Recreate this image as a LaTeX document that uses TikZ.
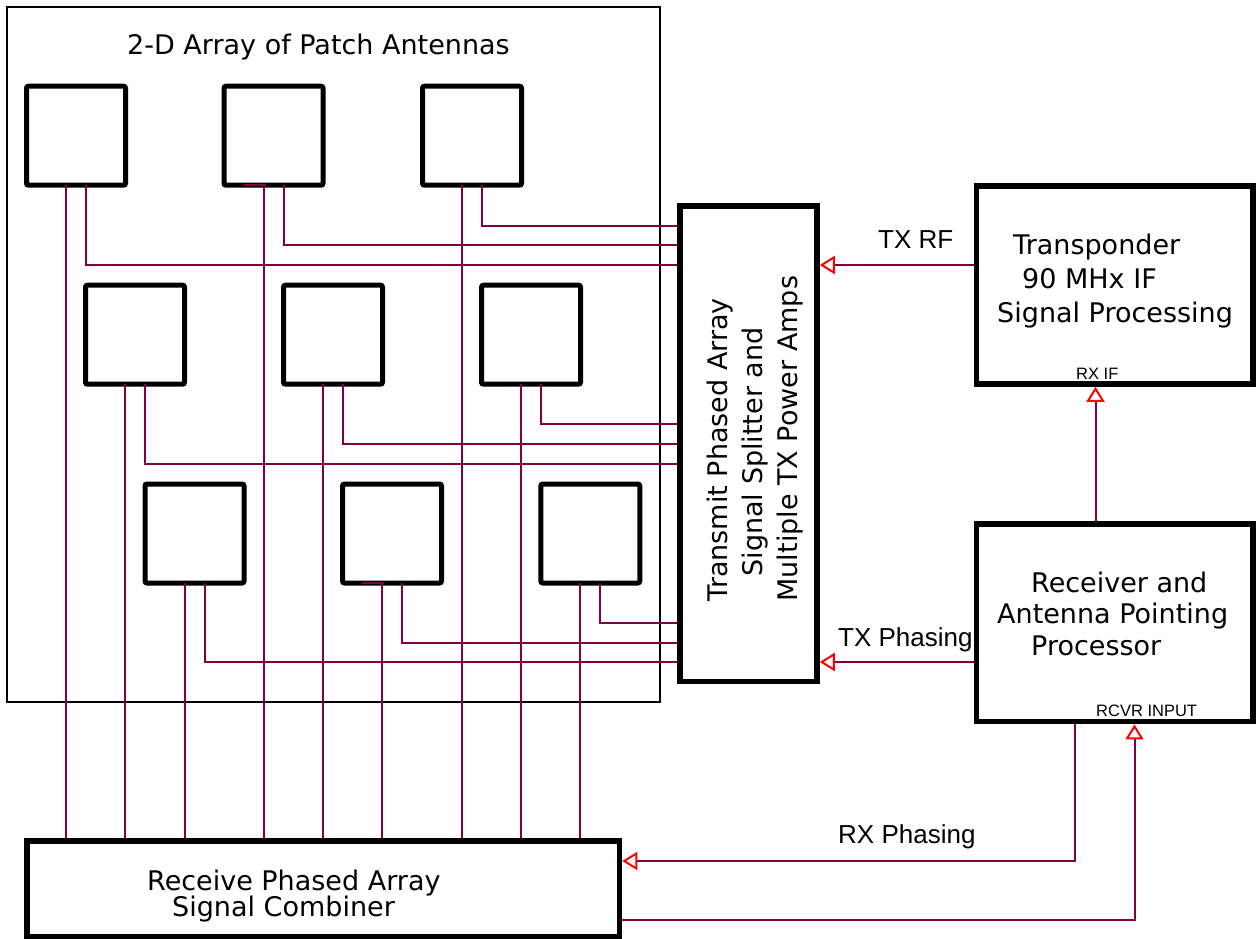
\documentclass[tikz,border=0pt]{standalone}
\usepackage{fontspec}
\newfontfamily\djv{DejaVu Sans}
\newfontfamily\lib{Liberation Sans}
\usetikzlibrary{arrows.meta}
\definecolor{wirec}{RGB}{128,0,64}
\begin{document}
\begin{tikzpicture}[x=1pt,y=-1pt,
  patch/.style={draw,line width=5pt,rounded corners=2pt,minimum width=99pt,minimum height=99pt,inner sep=0pt,outer sep=0pt},
  bigbox/.style={draw,line width=5.5pt,inner sep=0pt},
  wire/.style={draw=wirec,line width=2pt},
  tip/.style={-{Triangle[open,color=red,length=15pt,width=18pt,line width=2pt]}},
  lbl/.style={inner sep=0pt,anchor=base west,font=\djv\fontsize{27pt}{32pt}\selectfont},
  albl/.style={inner sep=0pt,anchor=base west,font=\lib\fontsize{26pt}{30pt}\selectfont},
  slbl/.style={inner sep=0pt,anchor=base west,font=\lib\fontsize{16.5pt}{20pt}\selectfont}]
\useasboundingbox (0,0) rectangle (1256,939);

% array frame
\node[draw,line width=1.6pt,minimum width=653pt,minimum height=695pt,inner sep=0pt] (arr) at (333.5,354.5) {};
\node[lbl] (title) at (127,55) {2-D Array of Patch Antennas};

% patches
\node[patch] (p1) at (76,135.7) {};
\node[patch] (p2) at (273.5,135.7) {};
\node[patch] (p3) at (472,135.7) {};
\node[patch] (p4) at (135,334.7) {};
\node[patch] (p5) at (333,334.7) {};
\node[patch] (p6) at (531,334.7) {};
\node[patch] (p7) at (194.5,533.5) {};
\node[patch] (p8) at (392,533.5) {};
\node[patch] (p9) at (590.3,533.5) {};

% main boxes
\node[bigbox,minimum width=137pt,minimum height=475.5pt] (tx) at (748.5,443.75) {};
\node[bigbox,minimum width=276.5pt,minimum height=198pt] (tp) at (1114.75,285) {};
\node[bigbox,minimum width=276.5pt,minimum height=197.7pt] (rcv) at (1114.75,622.85) {};
\node[bigbox,minimum width=592.5pt,minimum height=95.5pt] (rx) at (323.25,888.75) {};

% rail levels
\coordinate (y1) at (0,265);
\coordinate (y2) at (0,245);
\coordinate (y3) at (0,226);
\coordinate (y4) at (0,464);
\coordinate (y5) at (0,444);
\coordinate (y6) at (0,424);
\coordinate (y7) at (0,662);
\coordinate (y8) at (0,643);
\coordinate (y9) at (0,623);

% receive leads
\foreach \p in {p1,p2,p3,p4,p5,p6,p7,p8,p9}{
  \draw[wire] ([xshift=-10pt]\p.south) -- ([xshift=-10pt]\p.south |- rx.north);
}
% transmit leads
\foreach \p/\r in {p1/y1,p2/y2,p3/y3,p4/y4,p5/y5,p6/y6,p7/y7,p8/y8,p9/y9}{
  \draw[wire] ([xshift=10pt]\p.south) |- (tx.west |- \r);
}
% stubs
\draw[wire,line width=2.2pt] ([xshift=-30pt]p2.south) -- ([xshift=-8pt]p2.south);
\draw[wire,line width=2.2pt] ([xshift=-30pt]p8.south) -- ([xshift=-8pt]p8.south);

% connectors
\coordinate (yRF) at (0,265);
\coordinate (yTXP) at (0,662);
\coordinate (yRXP) at (0,861);
\coordinate (yRCV) at (0,920);
\coordinate (xIF) at (1095.5,0);
\coordinate (xRXP) at (1075,0);
\coordinate (xRCV) at (1134.5,0);
\draw[wire,tip] (tp.west |- yRF) -- (tx.east |- yRF);
\draw[wire,tip] (rcv.west |- yTXP) -- (tx.east |- yTXP);
\draw[wire,tip] (rcv.north -| xIF) -- (tp.south -| xIF);
\draw[wire,tip] (rcv.south -| xRXP) |- (rx.east |- yRXP);
\draw[wire,tip] (rx.east |- yRCV) -| (rcv.south -| xRCV);

% texts
\node[lbl] (t1) at (1013,254) {Transponder};
\node[lbl] (t2) at (1022,288) {90 MHx IF};
\node[lbl] (t3) at (997,322) {Signal Processing};
\node[slbl] (t4) at (1076,379) {RX IF};
\node[lbl] (r1) at (1031,592) {Receiver and};
\node[lbl] (r2) at (997,623) {Antenna Pointing};
\node[lbl] (r3) at (1031,655) {Processor};
\node[slbl] (r4) at (1096,716) {RCVR INPUT};
\node[lbl] (c1) at (147,890) {Receive Phased Array};
\node[lbl] (c2) at (172,916) {Signal Combiner};
\node[lbl,rotate=90] (x1) at (727,601.7) {Transmit Phased Array};
\node[lbl,rotate=90] (x2) at (762,576.7) {Signal Splitter and};
\node[lbl,rotate=90] (x3) at (797,601.7) {Multiple TX Power Amps};
\node[albl] (l1) at (878,248) {TX RF};
\node[albl] (l2) at (838,646) {TX Phasing};
\node[albl] (l3) at (838,843) {RX Phasing};
\end{tikzpicture}
\end{document}
